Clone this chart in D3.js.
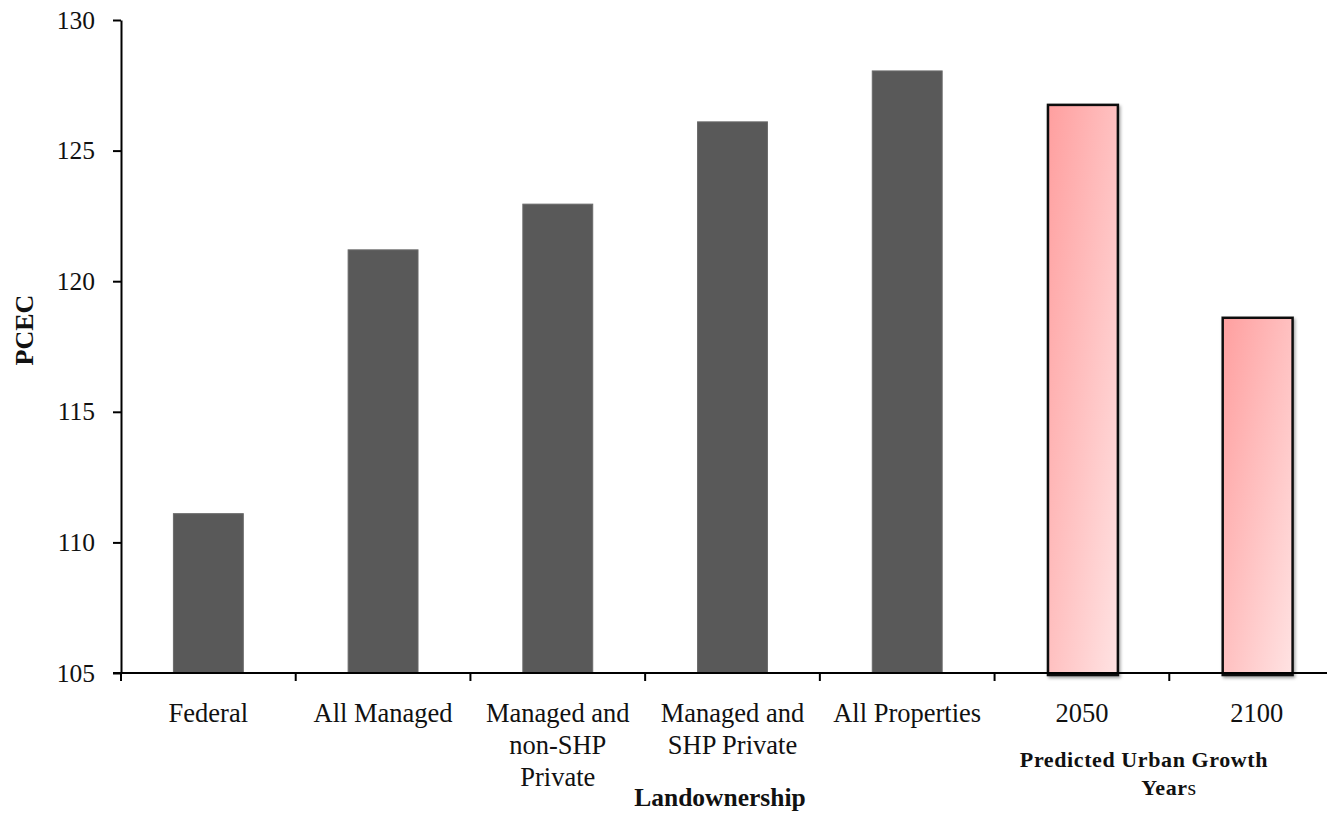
<!DOCTYPE html>
<html>
<head>
<meta charset="utf-8">
<script src="https://cdn.jsdelivr.net/npm/d3@7"></script>
<style>
  html, body { margin: 0; padding: 0; background: #fff; }
  svg { display: block; font-family: "Liberation Serif", "Times New Roman", serif; }
</style>
</head>
<body>
<svg id="chart" width="1327" height="813"></svg>
<script>
// PCEC by landownership class and by predicted urban-growth year
const categories = ["Federal", "All Managed", "Managed and non-SHP Private",
                    "Managed and SHP Private", "All Properties", "2050", "2100"];
const categoryLines = [["Federal"], ["All Managed"], ["Managed and", "non-SHP", "Private"],
                       ["Managed and", "SHP Private"], ["All Properties"], ["2050"], ["2100"]];
const pcecValues = [111.1, 121.2, 122.95, 126.1, 128.05, 126.75, 118.6];
const groupKind = ["owner", "owner", "owner", "owner", "owner", "growth", "growth"];
const yTicks = [105, 110, 115, 120, 125, 130];

const svg = d3.select("#chart");
const serif = "'Liberation Serif', 'Times New Roman', serif";

const x = d3.scaleBand()
  .domain(categories)
  .range([121, 1344])
  .paddingInner(0.6)
  .paddingOuter(0.3);

const y = d3.scaleLinear().domain([105, 130]).range([673, 20]);

// pink gradient for the urban-growth bars
const defs = svg.append("defs");
const grad = defs.append("linearGradient")
  .attr("id", "growthFill")
  .attr("x1", "0").attr("y1", "0").attr("x2", "1").attr("y2", "1");
grad.append("stop").attr("offset", "0").attr("stop-color", "#ff9f9f");
grad.append("stop").attr("offset", "0.55").attr("stop-color", "#ffc4c4");
grad.append("stop").attr("offset", "1").attr("stop-color", "#ffe3e3");

const shadow = defs.append("filter").attr("id", "barShadow")
  .attr("x", "-10%").attr("y", "-10%").attr("width", "130%").attr("height", "130%");
shadow.append("feDropShadow").attr("dx", 1.5).attr("dy", 2).attr("stdDeviation", 1.5)
  .attr("flood-color", "#000").attr("flood-opacity", 0.35);

const data = categories.map((c, i) => ({ c, v: pcecValues[i], kind: groupKind[i] }));

// landownership bars
svg.append("g").selectAll("rect")
  .data(data.filter(d => d.kind === "owner"))
  .join("rect")
  .attr("x", d => x(d.c))
  .attr("width", x.bandwidth())
  .attr("y", d => y(d.v))
  .attr("height", d => y(105) - y(d.v))
  .attr("fill", "#595959")
  .attr("stroke", "#6a6a6a")
  .attr("stroke-width", 1);

// urban-growth bars
svg.append("g").selectAll("rect")
  .data(data.filter(d => d.kind === "growth"))
  .join("rect")
  .attr("x", d => x(d.c) + 1)
  .attr("width", x.bandwidth())
  .attr("y", d => y(d.v))
  .attr("height", d => y(105) - y(d.v) + 2)
  .attr("fill", "url(#growthFill)")
  .attr("stroke", "#111")
  .attr("stroke-width", 2.5)
  .attr("filter", "url(#barShadow)");

// y axis
const yAxis = svg.append("g")
  .attr("transform", "translate(121,0)")
  .call(d3.axisLeft(y).tickValues(yTicks).tickSize(8).tickSizeOuter(0).tickPadding(18));
yAxis.attr("font-family", serif).attr("font-size", 25.5);
yAxis.select(".domain").attr("stroke", "#000").attr("stroke-width", 2);
yAxis.selectAll(".tick line").attr("stroke", "#000").attr("stroke-width", 2);
yAxis.selectAll(".tick text").attr("fill", "#111");

// x axis: baseline with ticks between categories
const xg = svg.append("g");
xg.append("line")
  .attr("x1", 113).attr("x2", 1327)
  .attr("y1", y(105)).attr("y2", y(105))
  .attr("stroke", "#000").attr("stroke-width", 2);
const step = x.step();
const boundaries = categories.map(c => x(c) - x.paddingOuter() * step)
  .concat([x(categories[categories.length - 1]) + x.bandwidth() + x.paddingOuter() * step]);
xg.selectAll("line.tick")
  .data(boundaries.filter(b => b < 1327))
  .join("line")
  .attr("class", "tick")
  .attr("x1", d => d).attr("x2", d => d)
  .attr("y1", y(105)).attr("y2", y(105) + 8)
  .attr("stroke", "#000").attr("stroke-width", 2);

// category labels
const labels = svg.append("g")
  .attr("font-family", serif)
  .attr("font-size", 26.5)
  .attr("fill", "#111")
  .attr("text-anchor", "middle");
categories.forEach((c, i) => {
  const t = labels.append("text")
    .attr("x", x(c) + x.bandwidth() / 2)
    .attr("y", 722);
  categoryLines[i].forEach((line, j) => {
    t.append("tspan")
      .attr("x", x(c) + x.bandwidth() / 2)
      .attr("dy", j === 0 ? 0 : 32)
      .text(line);
  });
});

// axis titles
svg.append("text")
  .attr("transform", "translate(33,330) rotate(-90)")
  .attr("text-anchor", "middle")
  .attr("font-family", serif)
  .attr("font-size", 26)
  .attr("font-weight", "bold")
  .attr("fill", "#111")
  .text("PCEC");

svg.append("text")
  .attr("x", 720).attr("y", 806)
  .attr("text-anchor", "middle")
  .attr("font-family", serif)
  .attr("font-size", 25.5)
  .attr("font-weight", "bold")
  .attr("fill", "#111")
  .text("Landownership");

svg.append("text")
  .attr("x", 1144).attr("y", 767)
  .attr("text-anchor", "middle")
  .attr("font-family", serif)
  .attr("font-size", 22)
  .attr("letter-spacing", 0.6)
  .attr("font-weight", "bold")
  .attr("fill", "#111")
  .text("Predicted Urban Growth");

const yrs = svg.append("text")
  .attr("x", 1169).attr("y", 795)
  .attr("text-anchor", "middle")
  .attr("font-family", serif)
  .attr("font-size", 22)
  .attr("letter-spacing", 0.6)
  .attr("fill", "#111");
yrs.append("tspan").attr("font-weight", "bold").text("Year");
yrs.append("tspan").text("s");
</script>
</body>
</html>
